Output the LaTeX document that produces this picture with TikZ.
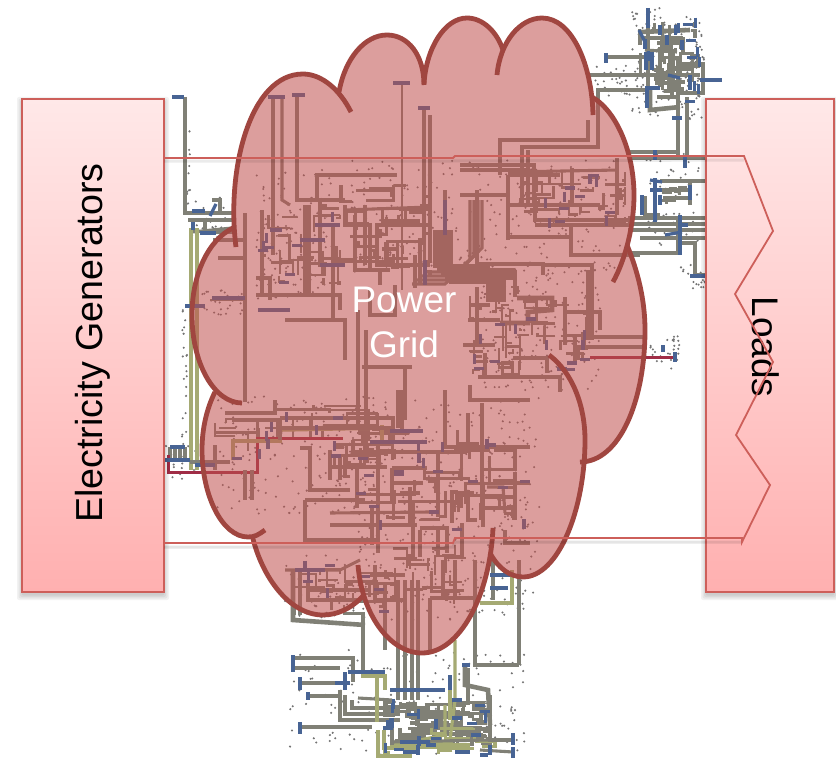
\documentclass[tikz,border=0pt]{standalone}
\usepackage{fontspec}
\setmainfont{Liberation Sans}
\definecolor{wiregray}{RGB}{128,128,118}
\definecolor{wireblue}{RGB}{72,100,148}
\definecolor{wireolive}{RGB}{165,170,115}
\definecolor{wirered}{RGB}{160,45,70}
\definecolor{cloudfill}{RGB}{192,80,77}
\definecolor{cloudedge}{RGB}{160,70,64}
\definecolor{boxedge}{RGB}{205,95,90}
\tikzset{
 gw/.style={draw=wiregray,line width=3.1pt},
 tw/.style={draw=wiregray,line width=4.6pt},
 fw/.style={draw=wiregray,line width=2.4pt},
 bw/.style={draw=wireblue,line width=3.2pt},
 ow/.style={draw=wireolive,line width=3.2pt},
 rw/.style={draw=wirered,line width=3pt},
 lobe/.style={draw=cloudedge,line width=4.8pt,line cap=butt},
 label/.style={text=black,font=\fontsize{37}{44}\selectfont,inner sep=0pt},
}
\newcommand\specks[5]{\foreach \i in {1,...,#5}{\pgfmathsetmacro\px{#1+rnd*#3}\pgfmathsetmacro\py{#2+rnd*#4}\fill[black!55] (\px,\py) circle (1.15pt);}}
\newcommand\tangle[6]{\foreach \i in {1,...,#5}{\pgfmathsetmacro\px{#1+rnd*#3}\pgfmathsetmacro\py{#2+rnd*#4}\pgfmathsetmacro\qx{min(#1+#3,max(#1,\px+(rnd-.5)*#3*.7))}\pgfmathsetmacro\qy{min(#2+#4,max(#2,\py+(rnd-.5)*#4*.7))}\draw[#6] (\px,\py) -| (\qx,\qy);}}
\newcommand\ticks[5]{\foreach \i in {1,...,#5}{\pgfmathsetmacro\px{#1+rnd*#3}\pgfmathsetmacro\py{#2+rnd*#4}\pgfmathsetmacro\qq{rnd}\ifdim\qq pt<0.6pt \draw[bw] (\px-5,\py)--(\px+5,\py);\else \draw[bw] (\px,\py-5)--(\px,\py+5);\fi}}
\begin{document}
\begin{tikzpicture}[x=1pt,y=-1pt]
\useasboundingbox (0,0) rectangle (836,760);
\fill[white] (0,0) rectangle (836,760);
\pgfmathsetseed{4711}
%% ---- specks of the network
\specks{632}{8}{72}{112}{150}
\specks{595}{65}{55}{32}{36}
\specks{645}{150}{55}{95}{60}
\specks{680}{265}{30}{25}{24}
\specks{650}{335}{30}{35}{26}
\specks{186}{110}{4}{95}{10}
\specks{182}{310}{5}{140}{22}
\specks{185}{195}{48}{45}{30}
\specks{165}{440}{40}{40}{22}
\specks{200}{290}{45}{25}{30}
\specks{255}{170}{80}{130}{130}
\specks{350}{160}{280}{115}{270}
\specks{480}{270}{120}{120}{190}
\specks{215}{395}{170}{120}{170}
\specks{350}{395}{190}{170}{270}
\specks{285}{555}{200}{65}{120}
\specks{485}{560}{50}{55}{32}
\specks{290}{650}{235}{105}{150}
%% ---- dense orthogonal wiring
\tangle{640}{22}{55}{70}{18}{gw}
\tangle{658}{45}{40}{50}{14}{tw}
\tangle{660}{182}{30}{22}{8}{gw}
\tangle{265}{215}{75}{70}{22}{fw}
\tangle{320}{185}{110}{90}{36}{gw}
\tangle{520}{172}{105}{50}{30}{fw}
\tangle{470}{285}{50}{90}{24}{fw}
\tangle{520}{300}{70}{60}{18}{fw}
\tangle{215}{405}{165}{60}{30}{fw}
\tangle{345}{430}{170}{90}{44}{gw}
\tangle{295}{565}{100}{50}{28}{fw}
\tangle{390}{545}{85}{60}{18}{fw}
\tangle{385}{702}{105}{48}{44}{gw}
\tangle{400}{708}{85}{30}{34}{tw}
\tangle{385}{728}{110}{26}{14}{ow}
%% ---- top right group
\draw[tw] (590,75)--(660,75);
\draw[gw] (606,57)--(645,57);
\draw[tw] (598,110)--(598,90)--(650,90);
\draw[tw] (640,32)--(690,30);
\draw[tw] (643,38)--(683,38);
\draw[gw] (657,43)--(683,43)--(683,53);
\draw[gw] (648,28)--(648,105);
\draw[tw] (660,47)--(660,87);
\draw[tw] (673,53)--(673,92);
\draw[tw] (680,64)--(703,64)--(703,93)--(680,93);
\draw[tw] (650,87)--(650,110)--(680,107);
\draw[gw] (655,83)--(680,83);
\draw[gw] (660,75)--(700,75);
\draw[gw] (645,50)--(677,52);
\draw[gw] (657,97)--(680,97);
\draw[tw] (678,97)--(678,155);
\draw[tw] (687,97)--(687,155);
%% ---- middle right group
\draw[tw] (628,152)--(680,152);
\draw[tw] (628,158)--(705,158);
\draw[tw] (660,181)--(705,181);
\draw[tw] (660,190)--(690,190)--(690,205);
\draw[gw] (663,198)--(690,198);
\draw[gw] (645,196)--(645,215)--(660,215);
\draw[tw] (628,218)--(705,218);
\draw[gw] (628,224)--(705,224);
\draw[tw] (628,230)--(705,230);
\draw[gw] (640,238)--(705,238);
\draw[tw] (628,253)--(678,253)--(678,220);
\draw[tw] (678,243)--(695,243)--(695,275)--(705,275);
%% ---- far left wires and groups
\draw[tw] (185,97)--(185,213)--(232,213);
\draw[gw] (188,220)--(232,220);
\draw[tw] (212,200)--(220,200)--(220,215);
\draw[gw] (205,222)--(205,232)--(232,232);
\draw[gw] (192,232)--(232,228);
\draw[ow] (191,228)--(191,470);
\draw[ow] (197,228)--(197,470);
\draw[gw] (170,447)--(170,460);
\draw[gw] (175,447)--(175,460);
\draw[gw] (180,447)--(180,460);
\draw[gw] (185,447)--(185,460);
\draw[gw] (190,462)--(230,462);
\draw[rw] (168,455)--(168,472)--(257,472)--(257,438)--(343,438);
\draw[ow,line width=3.6pt] (233,460)--(233,441)--(280,441)--(280,430)--(380,428);
\draw[ow,line width=3.6pt] (382,425)--(382,440);
%% ---- top-left part inside the cloud
\draw[gw] (273,97)--(273,255);
\draw[gw] (282,97)--(282,200)--(290,205);
\draw[gw] (297,95)--(297,200)--(345,200);
\draw[gw] (317,200)--(317,175)--(397,175);
\draw[fw] (402,83)--(402,290);
\draw[tw] (424,108)--(424,245);
\draw[gw] (430,115)--(430,240);
\draw[gw] (213,240)--(245,240)--(245,258)--(218,258);
\draw[gw] (245,213)--(245,402);
\draw[fw] (210,300)--(243,300);
\draw[gw] (262,210)--(262,295);
\draw[gw] (256,295)--(305,295);
\draw[gw] (256,278)--(270,278)--(270,300);
\draw[gw] (275,295)--(305,295)--(305,205);
\draw[gw] (309,205)--(309,295)--(340,295)--(340,310);
\draw[gw] (320,200)--(320,265)--(335,265);
\draw[gw] (333,225)--(333,320);
\draw[gw] (345,205)--(345,225)--(370,225)--(370,270);
\draw[tw] (355,215)--(355,270)--(390,270);
\draw[tw] (365,205)--(365,265);
\draw[gw] (345,210)--(430,207);
\draw[gw] (375,225)--(430,225);
\draw[gw] (377,225)--(377,265)--(430,265);
\draw[tw] (445,190)--(445,260);
\draw[gw] (415,255)--(415,288);
\draw[gw] (285,320)--(345,320)--(345,360);
\draw[tw] (358,310)--(358,430);
\draw[tw] (366,330)--(366,430);
\draw[gw] (362,367)--(412,367);
\draw[gw] (395,285)--(395,315)--(370,315)--(370,290);
\draw[gw] (380,285)--(380,270);
\draw[gw] (405,365)--(405,420);
\draw[gw] (420,238)--(420,285);
%% ---- staircase trunk
\foreach \d in {0,4,8,12,16}{\draw[gw] (435+\d,230)--(435+\d,266+\d)--(488+\d,266+\d)--(488+\d,302);}
\foreach \d in {0,4,8,12}{\draw[gw] (412+\d,284-\d)--(445+\d,284-\d)--(470+\d,260-\d)--(470+\d,200);}
%% ---- upper right part inside the cloud
\draw[tw] (500,175)--(500,140)--(588,140)--(588,120);
\draw[tw] (522,205)--(522,147)--(598,147)--(598,90);
\draw[gw] (528,150)--(528,205);
\draw[gw] (460,165)--(534,165)--(534,205);
\draw[gw] (460,170)--(530,170);
\draw[gw] (508,175)--(508,240);
\draw[gw] (508,175)--(560,175);
\draw[gw] (572,168)--(572,205);
\draw[gw] (508,172)--(618,170);
\draw[tw] (535,205)--(535,220)--(632,220);
\draw[gw] (535,225)--(632,225);
\draw[gw] (460,195)--(508,195);
\draw[gw] (508,237)--(570,237);
\draw[gw] (571,225)--(571,255)--(640,255);
\draw[gw] (617,158)--(617,215);
\draw[gw] (510,205)--(600,205);
\draw[tw] (477,190)--(477,264)--(543,264)--(543,275);
\draw[gw] (543,265)--(592,265)--(592,340);
\draw[gw] (588,270)--(588,340);
%% ---- right lower part inside the cloud
\foreach \d in {0,4,8}{\draw[gw] (460,270+\d)--(515,270+\d);}
\draw[gw] (515,270)--(515,297);
\draw[tw] (517,298)--(552,298)--(552,310)--(528,312)--(528,323)--(500,323);
\draw[tw] (565,297)--(565,345);
\draw[gw] (565,312)--(600,312)--(600,330);
\draw[gw] (590,337)--(645,337);
\draw[gw] (575,347)--(645,347);
\draw[gw] (575,337)--(575,362);
\draw[gw] (513,358)--(547,358)--(547,373);
\draw[gw] (478,377)--(560,377)--(560,392);
\draw[tw] (477,287)--(477,345);
\draw[gw] (485,353)--(485,377);
\draw[gw] (470,305)--(490,305);
\draw[gw] (468,320)--(500,320);
\draw[gw] (463,345)--(495,345);
\draw[rw] (590,357)--(675,357);
%% ---- lower middle inside the cloud
\draw[gw] (225,413)--(275,413)--(275,400);
\draw[gw] (232,420)--(280,420)--(280,440);
\draw[tw] (280,418)--(393,418)--(393,440);
\draw[gw] (280,428)--(390,428)--(390,440);
\draw[gw] (215,445)--(215,470);
\draw[gw] (245,470)--(245,500);
\draw[gw] (252,470)--(252,500);
\draw[gw] (300,448)--(310,448)--(310,490)--(350,490);
\draw[gw] (305,500)--(365,500);
\draw[gw] (305,500)--(305,540)--(380,540);
\draw[gw] (330,450)--(330,480);
\draw[gw] (353,440)--(353,452)--(467,452);
\draw[gw] (398,390)--(398,428);
\draw[gw] (402,390)--(402,430);
\draw[gw] (445,390)--(445,447)--(468,447);
\draw[gw] (470,385)--(470,400)--(530,400);
\draw[tw] (468,413)--(468,447)--(530,447);
\draw[gw] (482,403)--(482,517);
\draw[tw] (378,443)--(378,553);
\draw[gw] (372,505)--(372,545);
\draw[gw] (330,513)--(430,512);
\draw[gw] (330,525)--(417,525);
\draw[gw] (392,468)--(427,468);
\draw[gw] (392,468)--(392,503);
\draw[gw] (392,483)--(423,483);
\draw[gw] (400,493)--(420,493);
\draw[gw] (410,487)--(410,523);
\draw[tw] (438,450)--(438,517);
\draw[gw] (468,490)--(468,520)--(477,520);
\draw[gw] (452,490)--(452,523);
\draw[tw] (483,485)--(483,527);
\draw[gw] (487,487)--(503,487)--(505,513);
\draw[gw] (503,483)--(530,483);
\draw[gw] (420,528)--(447,528)--(447,553);
\draw[gw] (413,503)--(413,557);
\draw[gw] (420,530)--(420,557);
\draw[gw] (438,530)--(438,557);
\draw[tw] (462,523)--(462,557);
\draw[gw] (505,530)--(505,543)--(530,543);
\draw[gw] (340,457)--(340,480);
\draw[gw] (330,467)--(387,467);
\draw[gw] (357,468)--(357,508);
%% ---- lower left bump and what runs below
\draw[gw] (285,570)--(340,570)--(360,560);
\draw[tw] (293,570)--(293,620)--(365,625);
\draw[gw] (300,570)--(300,615);
\draw[gw] (308,580)--(308,600)--(365,600);
\draw[gw] (310,590)--(370,590);
\draw[tw] (375,565)--(375,600)--(405,600);
\draw[gw] (370,575)--(405,575);
\draw[gw] (385,585)--(385,650);
\draw[gw] (443,560)--(443,600);
\draw[gw] (430,598)--(430,650);
\draw[gw] (430,598)--(475,598);
\draw[gw] (455,560)--(455,600);
\draw[tw] (363,615)--(363,672);
\foreach \x in {398,405,412,418}{\draw[gw] (\x,580)--(\x,700);}
\draw[gw] (475,560)--(475,665)--(519,665);
\draw[gw] (519,560)--(519,665);
\draw[ow] (512,570)--(512,603)--(480,603);
\draw[ow] (455,640)--(455,700)--(450,740);
\draw[gw] (493,560)--(493,600);
\draw[gw] (293,658)--(353,658)--(353,682);
\draw[gw] (293,668)--(340,668);
\draw[gw] (300,683)--(345,683);
\draw[gw] (310,696)--(340,696);
\draw[gw] (300,727)--(372,727);
\draw[tw] (340,690)--(340,720)--(400,720);
\draw[tw] (345,695)--(345,714)--(400,714);
\draw[gw] (352,700)--(352,708)--(400,708);
\draw[gw] (358,698)--(392,700);
\draw[ow] (377,670)--(377,722);
\draw[ow] (378,730)--(378,756)--(412,756);
\draw[ow] (384,730)--(384,748)--(420,748);
\draw[ow] (361,676)--(385,676)--(385,690);
\draw[ow] (450,690)--(450,720);
\draw[ow] (445,705)--(445,735)--(420,740);
\draw[ow] (390,745)--(470,745);
\draw[tw] (465,665)--(465,685)--(488,690)--(490,725);
\draw[gw] (490,695)--(490,740)--(513,740);
\draw[gw] (480,750)--(513,752);
\draw[gw] (468,668)--(468,705);
\draw[gw] (392,720)--(392,745);
\draw[gw] (392,742)--(488,740);
%% ---- blue terminals
\draw[bw] (172,97)--(184,97);
\draw[bw] (192,211)--(205,211);
\draw[bw] (210,216)--(216,204);
\draw[bw] (193,222)--(193,230);
\draw[bw] (200,233)--(216,233);
\draw[bw] (185,306)--(205,306);
\draw[bw] (165,460)--(190,460);
\draw[bw] (170,447)--(185,447);
\draw[bw] (195,465)--(215,465);
\draw[bw] (268,97)--(285,97);
\draw[bw] (292,95)--(305,95);
\draw[bw] (393,83)--(410,83);
\draw[bw] (418,108)--(430,108);
\draw[bw] (270,230)--(282,230);
\draw[bw] (258,310)--(290,310);
\draw[bw] (212,298)--(245,298);
\draw[bw] (300,240)--(325,240);
\draw[bw] (315,225)--(340,225);
\draw[bw] (320,265)--(345,265);
\draw[bw] (425,260)--(425,285);
\draw[bw] (445,235)--(445,200);
\draw[bw] (606,53)--(606,63);
\draw[bw] (648,8)--(648,28);
\draw[bw] (639,30)--(645,42);
\draw[bw] (646,52)--(646,70);
\draw[bw] (652,52)--(652,70);
\draw[bw] (700,80)--(722,80);
\draw[bw] (668,75)--(680,78);
\draw[bw] (690,75)--(690,90);
\draw[bw] (682,40)--(682,50);
\draw[bw] (647,90)--(647,108);
\draw[bw] (645,88)--(660,88);
\draw[bw] (660,25)--(660,35);
\draw[bw] (672,118)--(682,118);
\draw[bw] (655,150)--(655,160);
\draw[bw] (685,155)--(685,168);
\draw[bw] (655,178)--(655,222);
\draw[bw] (650,180)--(662,182);
\draw[bw] (650,190)--(662,190);
\draw[bw] (642,195)--(642,215);
\draw[bw] (660,195)--(660,205);
\draw[bw] (680,215)--(680,255);
\draw[bw] (682,225)--(688,225);
\draw[bw] (665,235)--(682,232);
\draw[bw] (690,276)--(705,276);
\draw[bw] (690,185)--(690,200);
\draw[bw] (663,352)--(663,345);
\draw[bw] (675,352)--(675,362);
\draw[bw] (293,655)--(293,672);
\draw[bw] (300,677)--(300,690);
\draw[bw] (308,692)--(308,700);
\draw[bw] (300,722)--(300,734);
\draw[bw] (348,672)--(385,672);
\draw[bw] (335,683)--(350,683);
\draw[bw] (345,672)--(345,690);
\draw[bw] (390,690)--(445,690);
\draw[bw] (462,665)--(470,665);
\draw[bw] (450,675)--(450,690);
\draw[bw] (513,733)--(513,745);
\draw[bw] (513,747)--(513,758);
\draw[bw] (403,752)--(420,752);
\draw[bw] (418,745)--(418,755);
\draw[bw] (455,752)--(470,752);
\draw[bw] (480,755)--(488,755);
\draw[bw] (490,745)--(490,755);
\draw[bw] (388,720)--(388,730);
\draw[bw] (400,742)--(430,742);
\draw[bw] (452,700)--(462,700);
\draw[bw] (452,718)--(462,718);
\draw[bw] (490,575)--(510,575);
\draw[bw] (490,588)--(508,588);
\draw[bw] (295,570)--(325,570);
\draw[bw] (370,442)--(427,442);
\draw[bw] (390,431)--(423,431);
\ticks{640}{20}{60}{85}{14}
\ticks{385}{700}{110}{50}{18}
\ticks{260}{215}{80}{70}{8}
\ticks{520}{175}{105}{50}{12}
\ticks{470}{295}{120}{80}{14}
\ticks{335}{440}{190}{90}{20}
\ticks{215}{410}{130}{50}{10}
\ticks{295}{565}{100}{50}{8}
%% ---- clear spaces around the cloud's caption
\fill[white] (412,288) rectangle (458,378);
\fill[white] (370,318) rectangle (408,364);
%% ---- the two end boxes, with soft shadow
\foreach \g in {5,3.5,2,.5}{
 \fill[black,opacity=.05,rounded corners=2pt] (22-\g,99-\g+3) rectangle (164+\g,592+\g+3);
 \fill[black,opacity=.05,rounded corners=2pt] (706-\g,99-\g+3) rectangle (834+\g,592+\g+3);}
\shade[top color=red!9!white,bottom color=red!31!white] (22,99) rectangle (164,592);
\draw[boxedge,line width=2.2pt] (22,99) rectangle (164,592);
\shade[top color=red!9!white,bottom color=red!31!white] (706,99) rectangle (834,592);
\draw[boxedge,line width=2.2pt] (706,99) rectangle (834,592);
\node[label,rotate=90,anchor=center,font=\fontsize{37.6}{44}\selectfont] (gen) at (93,343) {Electricity Generators};
\node[label,rotate=-90,anchor=center] (loads) at (766,347) {Loads};
%% ---- cloud: a translucent body, then each lobe as its own stroke
\fill[cloudfill,opacity=.55]
 (236,247) .. controls (226,170) and (250,74) .. (303,74) .. controls (322,74) and (340,90) .. (351,112)
 -- (339,92) .. controls (345,58) and (365,35) .. (387,35) .. controls (408,35) and (424,55) .. (424,85)
 -- (424,84) .. controls (426,48) and (445,18) .. (467,18) .. controls (483,18) and (497,32) .. (503,50)
 -- (497,75) .. controls (500,42) and (520,18) .. (542,18) .. controls (572,18) and (592,65) .. (593,115)
 -- (592,97) .. controls (618,112) and (634,155) .. (634,195) .. controls (634,225) and (626,258) .. (613,282)
 -- (627,245) .. controls (638,272) and (645,300) .. (645,330) .. controls (645,400) and (620,462) .. (580,462)
 -- (584,450) .. controls (580,515) and (558,577) .. (523,577) .. controls (510,577) and (498,568) .. (490,553)
 -- (493,528) .. controls (490,595) and (460,653) .. (422,653) .. controls (390,653) and (362,615) .. (358,565)
 -- (364,595) .. controls (352,608) and (338,615) .. (323,615) .. controls (290,615) and (262,578) .. (252,535)
 -- (265,530) .. controls (258,535) and (255,537) .. (248,537) .. controls (222,537) and (202,495) .. (202,450) .. controls (202,428) and (207,408) .. (215,392)
 .. controls (199,368) and (192,342) .. (192,315) .. controls (192,275) and (208,240) .. (233,228)
 -- cycle;
\draw[lobe] (236,247) .. controls (226,170) and (250,74) .. (303,74) .. controls (322,74) and (340,90) .. (351,112);
\draw[lobe] (339,92) .. controls (345,58) and (365,35) .. (387,35) .. controls (408,35) and (424,55) .. (424,85);
\draw[lobe] (424,84) .. controls (426,48) and (445,18) .. (467,18) .. controls (483,18) and (497,32) .. (503,50);
\draw[lobe] (497,75) .. controls (500,42) and (520,18) .. (542,18) .. controls (572,18) and (592,65) .. (593,115);
\draw[lobe] (592,97) .. controls (618,112) and (634,155) .. (634,195) .. controls (634,225) and (626,258) .. (613,282);
\draw[lobe] (627,245) .. controls (638,272) and (645,300) .. (645,330) .. controls (645,400) and (620,462) .. (580,462);
\draw[lobe] (549,355) .. controls (572,372) and (585,405) .. (585,440) .. controls (585,510) and (558,577) .. (523,577) .. controls (510,577) and (498,568) .. (490,553);
\draw[lobe] (493,528) .. controls (490,595) and (460,653) .. (422,653) .. controls (390,653) and (362,615) .. (358,565);
\draw[lobe] (364,595) .. controls (352,608) and (338,615) .. (323,615) .. controls (290,615) and (262,578) .. (252,535);
\draw[lobe] (265,530) .. controls (258,535) and (255,537) .. (248,537) .. controls (222,537) and (202,495) .. (202,450) .. controls (202,428) and (207,408) .. (215,392);
\draw[lobe] (233,228) .. controls (208,240) and (192,275) .. (192,315) .. controls (192,365) and (215,403) .. (242,403);
\node[text=white,align=center,font=\fontsize{37}{45}\selectfont,inner sep=0pt] (grid) at (404,322) {Power\\Grid};
%% ---- the outlined flow arrow passing through everything
\draw[black,opacity=.10,line width=3pt] (164,547)--(453,547)--(455,542)--(742,542);
\draw[black,opacity=.08,line width=3pt] (164,161)--(453,161)--(744,160);
\draw[boxedge,line width=1.8pt,line join=miter] (164,158)--(453,158)--(455,156)--(744,156)--(773,231)--(735,294)--(773,362)--(736,435)--(770,485)--(742,542)--(742,538)--(455,538)--(453,543)--(164,543);
\end{tikzpicture}
\end{document}
